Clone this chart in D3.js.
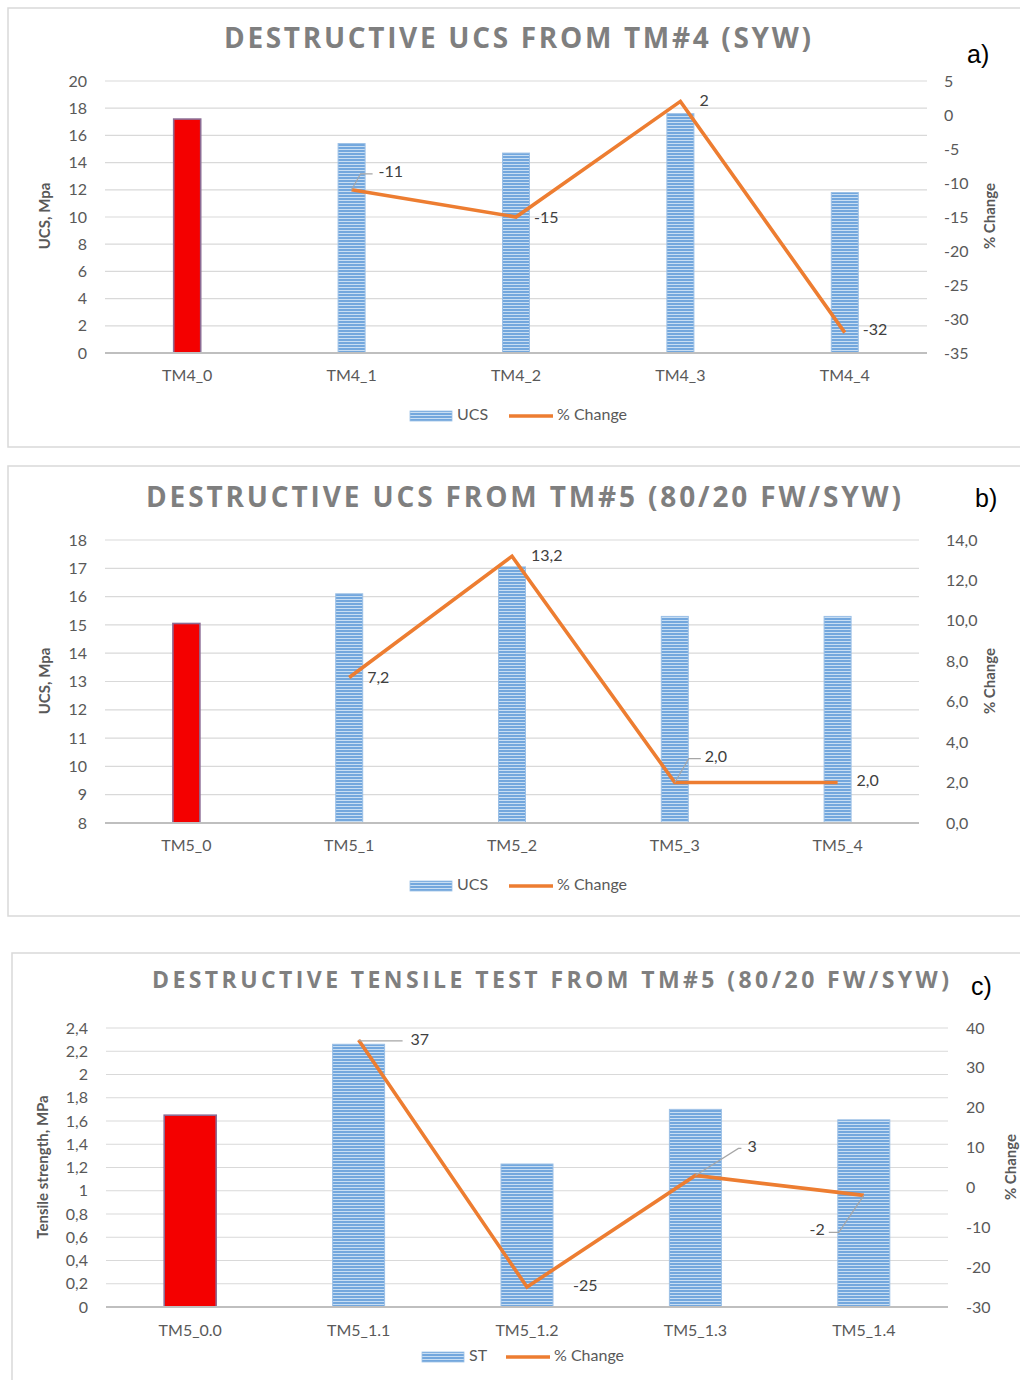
<!DOCTYPE html>
<html>
<head>
<meta charset="utf-8">
<script src="https://cdnjs.cloudflare.com/ajax/libs/d3/7.8.5/d3.min.js"></script>
<style>
  html, body { margin: 0; padding: 0; background: #fff; }
  svg { display: block; font-family: "Lato", "Carlito", "Open Sans", sans-serif; }
</style>
</head>
<body>
<svg id="chart" width="1020" height="1380"></svg>
<script>
// ---- Panel a: destructive UCS, TM#4 (SYW) ----
const catsA = ["TM4_0", "TM4_1", "TM4_2", "TM4_3", "TM4_4"];
const ucsA = [17.2, 15.4, 14.7, 17.6, 11.8];
const changeA = [null, -11, -15, 2, -32];
const leftTicksA = [0, 2, 4, 6, 8, 10, 12, 14, 16, 18, 20];
const rightTicksA = [-35, -30, -25, -20, -15, -10, -5, 0, 5];

// ---- Panel b: destructive UCS, TM#5 (80/20 FW/SYW) ----
const catsB = ["TM5_0", "TM5_1", "TM5_2", "TM5_3", "TM5_4"];
const ucsB = [15.05, 16.1, 17.05, 15.3, 15.3];
const changeB = [null, 7.2, 13.2, 2.0, 2.0];
const leftTicksB = [8, 9, 10, 11, 12, 13, 14, 15, 16, 17, 18];
const rightTicksB = [0, 2, 4, 6, 8, 10, 12, 14];

// ---- Panel c: destructive tensile test, TM#5 (80/20 FW/SYW) ----
const catsC = ["TM5_0.0", "TM5_1.1", "TM5_1.2", "TM5_1.3", "TM5_1.4"];
const stC = [1.65, 2.26, 1.23, 1.70, 1.61];
const changeC = [null, 37, -25, 3, -2];
const leftTicksC = [0, 0.2, 0.4, 0.6, 0.8, 1, 1.2, 1.4, 1.6, 1.8, 2, 2.2, 2.4];
const rightTicksC = [-30, -20, -10, 0, 10, 20, 30, 40];

const comma = v => String(v).replace(".", ",");
const comma1 = v => v.toFixed(1).replace(".", ",");

const svg = d3.select("#chart");
svg.append("rect").attr("width", 1020).attr("height", 1380).attr("fill", "#fff");

// striped fill used by the blue bars
const defs = svg.append("defs");
const pat = defs.append("pattern")
  .attr("id", "stripes").attr("patternUnits", "userSpaceOnUse")
  .attr("width", 8).attr("height", 3);
pat.append("rect").attr("width", 8).attr("height", 3).attr("fill", "#c8def3");
pat.append("rect").attr("width", 8).attr("height", 2).attr("fill", "#73a7dd");

const ORANGE = "#ed7d31";
const TXT = "#595959";

function drawPanel(cfg) {
  const g = svg.append("g");

  // frame
  g.append("rect")
    .attr("x", cfg.frame[0]).attr("y", cfg.frame[1])
    .attr("width", cfg.frame[2]).attr("height", cfg.frame[3])
    .attr("fill", "none").attr("stroke", "#d9d9d9").attr("stroke-width", 1.5);

  // title (letter-spaced)
  g.append("text")
    .attr("x", cfg.title.x).attr("y", cfg.title.y)
    .attr("font-size", cfg.title.size).attr("font-weight", 700)
    .attr("fill", "#7f7f7f")
    .attr("font-family", "Open Sans, Lato, sans-serif")
    .attr("textLength", cfg.title.len).attr("lengthAdjust", "spacing")
    .attr("dominant-baseline", "middle")
    .text(cfg.title.text);

  // panel letter
  g.append("text")
    .attr("x", cfg.letter.x).attr("y", cfg.letter.y)
    .attr("font-size", 25).attr("fill", "#000")
    .attr("font-family", "Liberation Sans Narrow, Liberation Sans, sans-serif")
    .attr("dominant-baseline", "middle")
    .text(cfg.letter.text);

  const x = d3.scaleBand().domain(cfg.cats).range(cfg.xRange).padding(0);
  const yL = d3.scaleLinear().domain(cfg.yLDomain).range(cfg.yRange);
  const yR = d3.scaleLinear().domain(cfg.yRDomain).range(cfg.yRange);
  const [x0, x1] = cfg.xRange;

  // gridlines from the primary axis
  g.append("g").selectAll("line")
    .data(cfg.leftTicks.slice(1))
    .join("line")
    .attr("x1", x0).attr("x2", x1)
    .attr("y1", d => yL(d)).attr("y2", d => yL(d))
    .attr("stroke", "#d9d9d9").attr("stroke-width", 1.2);

  // left axis labels
  const axL = d3.axisLeft(yL).tickValues(cfg.leftTicks).tickFormat(cfg.leftFmt).tickSize(0).tickPadding(0);
  const gL = g.append("g").attr("transform", `translate(${cfg.leftLabelX},0)`).call(axL);
  gL.select(".domain").remove();
  gL.selectAll("text").attr("font-size", 16).attr("fill", TXT).attr("font-family", "Lato, sans-serif");

  // right axis labels
  const axR = d3.axisRight(yR).tickValues(cfg.rightTicks).tickFormat(cfg.rightFmt).tickSize(0).tickPadding(0);
  const gR = g.append("g").attr("transform", `translate(${cfg.rightLabelX},0)`).call(axR);
  gR.select(".domain").remove();
  gR.selectAll("text").attr("font-size", 16).attr("fill", TXT).attr("font-family", "Lato, sans-serif");

  // bars
  const rows = cfg.cats.map((c, i) => ({ c, v: cfg.bars[i], i }));
  g.append("g").selectAll("rect")
    .data(rows)
    .join("rect")
    .attr("x", d => x(d.c) + x.bandwidth() / 2 - cfg.barW / 2)
    .attr("width", cfg.barW)
    .attr("y", d => yL(d.v))
    .attr("height", d => yL(cfg.yLDomain[0]) - yL(d.v))
    .attr("fill", d => d.i === 0 ? "#f40000" : "url(#stripes)")
    .attr("stroke", d => d.i === 0 ? "#8c6c94" : "#9cc0e6")
    .attr("stroke-width", d => d.i === 0 ? 1.6 : 1);

  // category axis baseline and labels
  g.append("line")
    .attr("x1", x0).attr("x2", x1)
    .attr("y1", yL(cfg.yLDomain[0])).attr("y2", yL(cfg.yLDomain[0]))
    .attr("stroke", "#bfbfbf").attr("stroke-width", 2.2);
  const axX = d3.axisBottom(x).tickSize(0).tickPadding(0);
  const gX = g.append("g").attr("transform", `translate(0,${cfg.xLabelY})`).call(axX);
  gX.select(".domain").remove();
  gX.selectAll("text").attr("font-size", 16).attr("fill", TXT).attr("dy", "0.35em")
    .attr("font-family", "Lato, sans-serif");

  // % change line
  const pts = rows.filter(d => cfg.change[d.i] !== null)
    .map(d => ({ c: d.c, v: cfg.change[d.i], i: d.i }));
  const line = d3.line()
    .x(d => x(d.c) + x.bandwidth() / 2)
    .y(d => yR(d.v));
  g.append("path").datum(pts)
    .attr("d", line)
    .attr("fill", "none").attr("stroke", ORANGE)
    .attr("stroke-width", 3.6).attr("stroke-linejoin", "miter");

  // data labels (with leader lines where the label sits away from its point)
  pts.forEach(d => {
    const px = x(d.c) + x.bandwidth() / 2, py = yR(d.v);
    const lp = cfg.labelPos[d.i];
    if (lp.leader) {
      const pathPts = lp.leader.map(([dx, dy]) => [px + dx, py + dy]);
      g.append("path")
        .attr("d", d3.line()([[px, py], ...pathPts]))
        .attr("fill", "none").attr("stroke", "#a6a6a6").attr("stroke-width", 1.2);
    }
    g.append("text")
      .attr("x", px + lp.dx).attr("y", py + lp.dy)
      .attr("text-anchor", lp.anchor || "start")
      .attr("dominant-baseline", "middle")
      .attr("font-size", 16).attr("fill", "#404040")
      .attr("font-family", "Lato, sans-serif")
      .text(cfg.changeFmt(d.v));
  });

  // axis titles
  g.append("text")
    .attr("transform", `translate(${cfg.leftTitle.x},${cfg.leftTitle.y}) rotate(-90)`)
    .attr("text-anchor", "middle").attr("dominant-baseline", "middle")
    .attr("font-size", 15).attr("font-weight", 700).attr("fill", TXT)
    .text(cfg.leftTitle.text);
  g.append("text")
    .attr("transform", `translate(${cfg.rightTitle.x},${cfg.rightTitle.y}) rotate(-90)`)
    .attr("text-anchor", "middle").attr("dominant-baseline", "middle")
    .attr("font-size", 15).attr("font-weight", 700).attr("fill", TXT)
    .text("% Change");

  // legend
  const lg = g.append("g").attr("transform", `translate(${cfg.legend.x},${cfg.legend.y})`);
  lg.append("rect").attr("x", 0).attr("y", -5).attr("width", 42).attr("height", 10)
    .attr("fill", "url(#stripes)").attr("stroke", "#9cc0e6").attr("stroke-width", 0.8);
  lg.append("text").attr("x", 47).attr("y", 0).attr("dominant-baseline", "middle")
    .attr("font-size", 16).attr("fill", TXT).attr("font-family", "Lato, sans-serif")
    .text(cfg.legend.name);
  const lx = cfg.legend.lineX;
  lg.append("line").attr("x1", lx).attr("x2", lx + 44).attr("y1", 0).attr("y2", 0)
    .attr("stroke", ORANGE).attr("stroke-width", 3.6);
  lg.append("text").attr("x", lx + 48).attr("y", 0).attr("dominant-baseline", "middle")
    .attr("font-size", 16).attr("fill", TXT).attr("font-family", "Lato, sans-serif")
    .text("% Change");
}

drawPanel({
  frame: [8, 8, 1020, 439],
  title: { text: "DESTRUCTIVE UCS FROM TM#4 (SYW)", x: 224, y: 41, size: 28, len: 587 },
  letter: { text: "a)", x: 967, y: 56 },
  cats: catsA, bars: ucsA, change: changeA,
  xRange: [105, 927], yRange: [353, 81],
  yLDomain: [0, 20], yRDomain: [-35, 5],
  leftTicks: leftTicksA, rightTicks: rightTicksA,
  leftFmt: d => String(d), rightFmt: d => String(d), changeFmt: d => String(d),
  leftLabelX: 87, rightLabelX: 944, xLabelY: 375, barW: 27,
  labelPos: {
    1: { dx: 27, dy: -17, leader: [[9, -16], [21, -16]] },
    2: { dx: 18, dy: 2 },
    3: { dx: 19, dy: 1 },
    4: { dx: 18, dy: -2 }
  },
  leftTitle: { text: "UCS, Mpa", x: 46, y: 216 },
  rightTitle: { x: 991, y: 216 },
  legend: { name: "UCS", x: 410, y: 416, lineX: 99 }
});

drawPanel({
  frame: [8, 466, 1020, 450],
  title: { text: "DESTRUCTIVE UCS FROM TM#5 (80/20 FW/SYW)", x: 146, y: 500, size: 28, len: 755 },
  letter: { text: "b)", x: 975, y: 500 },
  cats: catsB, bars: ucsB, change: changeB,
  xRange: [105, 919], yRange: [823, 540],
  yLDomain: [8, 18], yRDomain: [0, 14],
  leftTicks: leftTicksB, rightTicks: rightTicksB,
  leftFmt: d => String(d), rightFmt: comma1, changeFmt: comma1,
  leftLabelX: 87, rightLabelX: 946, xLabelY: 845, barW: 27,
  labelPos: {
    1: { dx: 18, dy: 1 },
    2: { dx: 19, dy: 1 },
    3: { dx: 30, dy: -25, leader: [[14, -24], [26, -24]] },
    4: { dx: 19, dy: -1 }
  },
  leftTitle: { text: "UCS, Mpa", x: 46, y: 681 },
  rightTitle: { x: 991, y: 681 },
  legend: { name: "UCS", x: 410, y: 886, lineX: 99 }
});

drawPanel({
  frame: [12, 953, 1020, 440],
  title: { text: "DESTRUCTIVE TENSILE TEST FROM TM#5 (80/20 FW/SYW)", x: 152, y: 982, size: 23, len: 797 },
  letter: { text: "c)", x: 971, y: 988 },
  cats: catsC, bars: stC, change: changeC,
  xRange: [106, 948], yRange: [1307, 1028],
  yLDomain: [0, 2.4], yRDomain: [-30, 40],
  leftTicks: leftTicksC, rightTicks: rightTicksC,
  leftFmt: comma, rightFmt: d => String(d), changeFmt: d => String(d),
  leftLabelX: 88, rightLabelX: 966, xLabelY: 1330, barW: 52,
  labelPos: {
    1: { dx: 52, dy: 1, leader: [[2, 1], [44, 1]] },
    2: { dx: 46, dy: 0 },
    3: { dx: 52, dy: -28, leader: [[43, -27], [46, -27]] },
    4: { dx: -39, dy: 36, anchor: "end", leader: [[-25, 37], [-35, 37]] }
  },
  leftTitle: { text: "Tensile strength, MPa", x: 44, y: 1167 },
  rightTitle: { x: 1012, y: 1167 },
  legend: { name: "ST", x: 422, y: 1357, lineX: 84 }
});
</script>
</body>
</html>
